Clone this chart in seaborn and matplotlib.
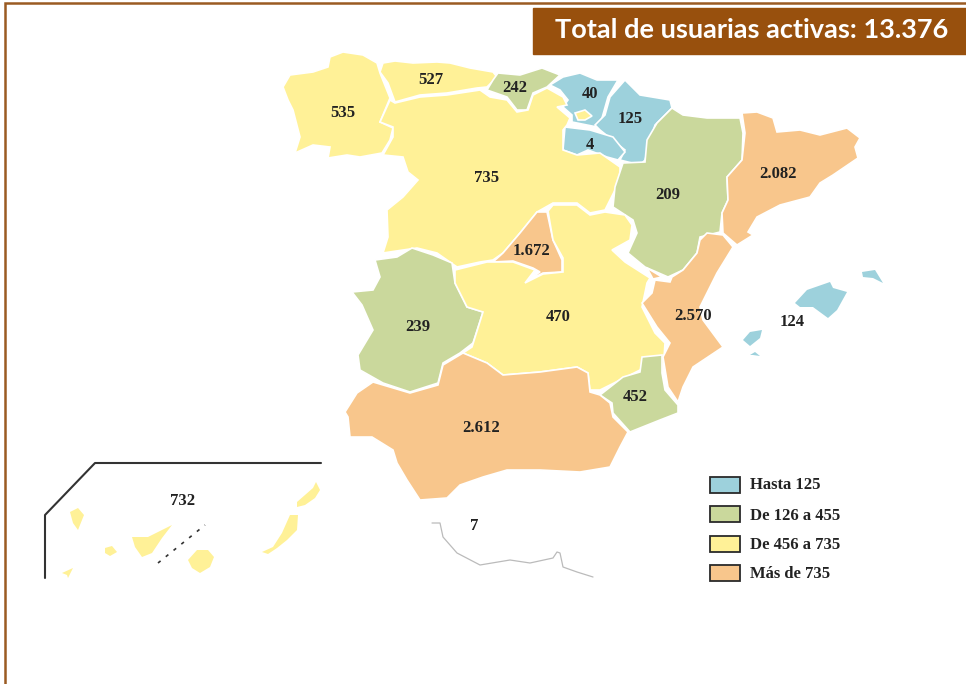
import pandas as pd
import matplotlib.pyplot as plt
import seaborn as sns

# chart values
regions = ['Galicia', 'Asturias', 'Cantabria', 'Pais Vasco', 'Navarra', 'La Rioja', 'Castilla y Leon',
           'Aragon', 'Cataluna', 'Madrid', 'Extremadura', 'Castilla-La Mancha', 'Valencia',
           'Baleares', 'Murcia', 'Andalucia', 'Canarias', 'Ceuta y Melilla']
users = [535, 527, 242, 40, 125, 4, 735, 209, 2082, 1672, 239, 470, 2570, 124, 452, 2612, 732, 7]
user_labels = ['535', '527', '242', '40', '125', '4', '735', '209', '2.082', '1.672', '239', '470',
               '2.570', '124', '452', '2.612', '732', '7']
bin_edges = [0, 125, 455, 735, 100000]
bin_labels = ['Hasta 125', 'De 126 a 455', 'De 456 a 735', 'Más de 735']
bin_colors = ['#9DD1DC', '#CAD89C', '#FFF197', '#F8C68C']
title = 'Total de usuarias activas: 13.376'

# label centres in image pixels
label_x = [343, 431, 515, 590, 630, 590, 487, 668, 778, 532, 418, 558, 693, 792, 635, 481, 183, 474]
label_y = [112, 79, 87, 93, 118, 144, 177, 194, 173, 250, 326, 316, 315, 321, 396, 427, 500, 525]

# region outlines, image pixels
galicia = [(283,87),(290,75),(313,72),(328,67),(330,57),(343,52),(363,55),(377,63),(380,73),(390,98),(380,122),(393,128),(390,140),(382,153),(360,157),(347,155),(328,158),(330,147),(313,145),(295,153),(300,137),(293,110),(288,100)]
asturias = [(383,63),(395,61),(413,63),(437,62),(450,63),(470,68),(493,72),(497,77),(487,87),(477,88),(447,93),(420,95),(395,102),(388,83),(380,72)]
cantabria = [(498,73),(520,75),(542,68),(560,75),(547,87),(533,93),(527,110),(517,110),(507,97),(487,90),(493,80)]
pais_vasco = [(550,85),(563,77),(580,73),(597,80),(618,80),(608,97),(602,118),(597,127),(572,122),(572,115),(563,107),(568,100),(560,90)]
navarra = [(625,80),(640,95),(670,100),(672,108),(655,125),(645,160),(640,165),(620,160),(625,150),(600,130),(595,125),(605,115),(610,97)]
rioja = [(565,127),(590,130),(613,137),(625,152),(618,160),(607,157),(588,150),(577,155),(563,150)]
castilla_leon = [(395,103),(420,97),(447,95),(480,90),(490,97),(507,100),(517,112),(528,110),(533,95),(547,88),(563,97),(567,105),(557,107),(570,118),(567,125),(563,130),(563,150),(577,155),(600,153),(620,167),(620,180),(610,200),(605,210),(590,213),(577,203),(553,203),(537,212),(520,233),(503,253),(493,260),(480,262),(457,267),(437,253),(417,248),(403,250),(383,253),(388,237),(387,210),(403,197),(418,180),(408,172),(403,157),(383,155),(393,137),(393,127),(380,122),(390,100)]
trevino = [(575,113),(585,110),(592,116),(585,120),(578,120)]
aragon = [(672,108),(683,115),(707,118),(740,118),(743,133),(742,160),(727,177),(728,200),(722,213),(720,232),(700,237),(697,253),(683,270),(668,277),(645,267),(628,253),(637,233),(633,220),(613,207),(615,187),(623,163),(645,162),(647,140),(657,123)]
cataluna = [(742,113),(757,112),(773,118),(777,132),(800,130),(820,135),(847,128),(860,138),(855,147),(858,158),(833,175),(820,183),(810,197),(780,205),(757,217),(748,232),(753,235),(737,245),(723,233),(722,213),(728,200),(727,177),(742,160),(745,133)]
madrid = [(493,262),(513,261),(533,268),(540,272),(525,282),(543,273),(562,272),(562,260),(553,240),(547,212),(537,212),(520,233),(503,253)]
extremadura = [(412,248),(433,255),(452,263),(455,283),(467,307),(483,312),(473,343),(460,353),(443,363),(438,383),(410,392),(383,383),(360,370),(358,355),(373,330),(362,305),(352,292),(373,290),(380,277),(375,260),(397,257)]
la_mancha = [(455,270),(487,262),(513,262),(535,270),(525,283),(543,274),(563,272),(563,258),(553,240),(548,211),(553,205),(577,205),(590,215),(605,212),(625,215),(632,225),(630,240),(612,250),(625,262),(650,278),(647,283),(642,307),(655,333),(665,343),(663,373),(640,370),(600,390),(590,390),(588,373),(577,367),(540,372),(503,375),(487,363),(463,353),(472,347),(483,312),(467,307),(455,283)]
valencia = [(700,240),(707,233),(723,235),(733,247),(717,273),(700,307),(703,320),(723,347),(693,367),(683,387),(678,402),(668,387),(663,357),(670,343),(657,327),(642,303),(652,293),(655,280),(670,282),(672,277),(683,270),(697,253)]
ademuz = [(647,268),(662,277),(653,279)]
mallorca = [(795,303),(807,290),(830,282),(833,288),(847,292),(837,310),(828,318),(813,307),(800,307)]
menorca = [(862,272),(875,270),(883,283),(873,278),(863,277)]
ibiza = [(743,340),(750,332),(762,330),(760,338),(750,346)]
formentera = [(750,355),(755,352),(760,356),(753,355)]
murcia = [(642,357),(662,355),(662,373),(665,390),(678,405),(678,413),(660,420),(630,432),(613,413),(612,403),(600,395),(623,377),(640,372)]
andalucia = [(463,353),(487,363),(503,375),(540,372),(577,367),(588,373),(590,392),(600,395),(610,403),(613,417),(628,432),(620,447),(610,467),(580,472),(540,470),(507,470),(483,477),(460,485),(447,498),(420,500),(407,480),(397,463),(393,450),(372,437),(350,437),(348,417),(345,412),(357,393),(373,382),(410,393),(438,385),(443,365)]
hierro = [(62,573),(73,568),(68,578),(67,575)]
la_palma = [(70,512),(78,508),(84,515),(78,530),(73,523)]
gomera = [(105,548),(112,546),(117,552),(110,556),(105,553)]
tenerife = [(132,537),(148,537),(172,525),(162,538),(152,553),(142,557),(135,547)]
gran_canaria = [(188,560),(197,550),(208,550),(214,557),(210,567),(200,573),(192,568)]
fuerteventura = [(290,515),(298,515),(297,530),(287,540),(277,548),(268,554),(262,552),(273,547),(282,533)]
lanzarote = [(297,502),(313,488),(316,482),(320,490),(315,498),(305,505),(297,507)]
africa_coast = [(432,523),(440,523),(443,537),(457,553),(480,565),(510,560),(530,563),(553,558),(557,552),(560,553),(563,567),(577,572),(593,577)]

shapes = {
    'Galicia': [galicia], 'Asturias': [asturias], 'Cantabria': [cantabria], 'Pais Vasco': [pais_vasco],
    'Navarra': [navarra], 'La Rioja': [rioja], 'Castilla y Leon': [castilla_leon, trevino], 'Aragon': [aragon],
    'Cataluna': [cataluna], 'Madrid': [madrid], 'Extremadura': [extremadura], 'Castilla-La Mancha': [la_mancha],
    'Valencia': [valencia, ademuz], 'Baleares': [mallorca, menorca, ibiza, formentera], 'Murcia': [murcia],
    'Andalucia': [andalucia],
    'Canarias': [hierro, la_palma, gomera, tenerife, gran_canaria, fuerteventura, lanzarote],
    'Ceuta y Melilla': [],
}
islands = ['Baleares', 'Canarias']

df = pd.DataFrame({'region': regions, 'users': users, 'label': user_labels, 'x': label_x, 'y': label_y})
df['bin'] = pd.cut(df['users'], bins=bin_edges, labels=bin_labels)

sns.set_theme(style='white')
palette = dict(zip(bin_labels, sns.color_palette(bin_colors)))
brown = '#98500D'
serif = 'Liberation Serif'

fig = plt.figure(figsize=(9.66, 6.84), dpi=100)
ax = fig.add_axes([0, 0, 1, 1])
ax.set_xlim(0, 966)
ax.set_ylim(684, 0)
ax.axis('off')

# page frame and title box
ax.plot([5, 5, 966], [684, 3, 3], color='#9A5B22', lw=1.8, solid_joinstyle='miter')
ax.fill([533, 966, 966, 533], [8, 8, 54, 54], color=brown, zorder=3)
ax.text(752, 30, title, color='white', fontsize=19.5, fontweight='bold', family='Lato',
        ha='center', va='center', zorder=4)

# regions, the islands without the white outline so they keep their size
for _, row in df.iterrows():
    edge = 'none' if row['region'] in islands else 'white'
    for outline in shapes[row['region']]:
        xs, ys = zip(*outline)
        ax.fill(xs, ys, facecolor=palette[row['bin']], edgecolor=edge, lw=1.2, zorder=2)
    ax.text(row['x'], row['y'] + 1, row['label'], family=serif, fontsize=12, fontweight='bold',
            color='#222222', ha='center', va='center', zorder=5)

# Canary inset frame, dashed strip and Africa coast
ax.plot([45, 45, 95, 321], [578, 515, 463, 463], color='#333333', lw=1.5)
ax.plot([158, 205], [563, 525], color='#333333', lw=1.2, ls=(0, (2, 4)))
cx, cy = zip(*africa_coast)
ax.plot(cx, cy, color='#BBBBBB', lw=0.9)

# legend
box_y = [477, 506, 536, 565]
text_y = [485, 516, 545, 574]
for label, top, ty in zip(bin_labels, box_y, text_y):
    ax.fill([710, 740, 740, 710], [top, top, top + 16, top + 16], facecolor=palette[label],
            edgecolor='#2A2A2A', lw=1.3, zorder=3)
    ax.text(750, ty, label, family=serif, fontsize=12, color='#222222', fontweight='bold',
            ha='left', va='center', zorder=5)

fig.savefig('out.png', dpi=100)
